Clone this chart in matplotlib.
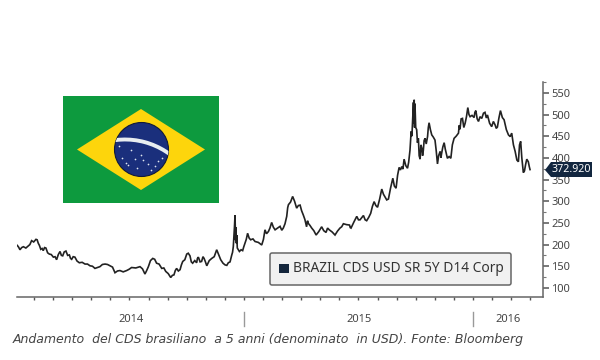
import matplotlib
matplotlib.use("Agg")
import matplotlib.pyplot as plt
from matplotlib.patches import Polygon, Circle, FancyBboxPatch, Rectangle, Arc
from matplotlib.ticker import MultipleLocator

# months since January 2014
months = [0.12,.19,.26,.35,.44,.57,.70,.78,.87,.98,1.10,1.16,1.22,1.28,1.35,1.42,1.48,1.55,1.62,1.71,1.80,1.90,2.01,2.10,2.18,2.27,2.36,2.43,2.50,2.58,2.67,2.76,2.85,2.91,2.97,3.05,3.14,3.25,3.37,3.52,3.67,3.80,3.93,4.06,4.19,4.32,4.45,4.58,4.72,4.85,
          4.98,5.11,5.24,5.37,5.50,5.67,5.85,5.98,6.11,6.33,6.55,6.68,6.81,6.90,6.99,7.10,7.22,7.32,7.42,7.55,7.69,7.80,7.90,8.03,8.16,8.25,8.33,8.40,8.47,8.56,8.65,8.72,8.79,8.90,9.00,9.08,9.17,9.24,9.31,9.42,9.52,9.56,9.61,9.70,9.78,9.85,9.91,9.98,10.05,10.18,
          10.31,10.44,10.57,10.68,10.78,10.90,11.01,11.10,11.18,11.27,11.36,11.40,11.44,11.50,11.53,11.56,11.58,11.60,11.62,11.65,11.76,11.85,11.93,11.99,12.05,12.12,12.19,12.27,12.35,12.47,12.58,12.75,12.93,13.02,13.10,13.18,13.28,13.36,13.45,13.54,13.63,13.76,13.89,13.98,14.06,14.15,14.24,14.29,14.33,14.44,
          14.55,14.65,14.76,14.85,14.94,15.02,15.11,15.19,15.28,15.33,15.37,15.46,15.55,15.66,15.78,15.92,16.07,16.18,16.30,16.38,16.47,16.62,16.77,16.90,17.03,17.12,17.21,17.37,17.53,17.57,17.61,17.76,17.91,18.00,18.08,18.17,18.26,18.35,18.43,18.54,18.64,18.73,18.82,18.91,19.00,19.11,19.22,19.31,19.40,19.48,
          19.57,19.68,19.80,19.88,19.97,20.05,20.13,20.20,20.27,20.33,20.39,20.48,20.57,20.63,20.70,20.76,20.80,20.84,20.88,20.90,20.92,20.94,20.96,21.00,21.05,21.09,21.14,21.18,21.23,21.27,21.32,21.36,21.40,21.44,21.49,21.55,21.62,21.66,21.70,21.77,21.84,21.92,22.01,22.07,22.14,22.20,22.28,22.32,22.36,22.42,
          22.49,22.55,22.66,22.75,22.84,22.92,23.01,23.12,23.24,23.28,23.32,23.38,23.45,23.52,23.59,23.66,23.73,23.79,23.85,23.95,24.06,24.10,24.15,24.22,24.29,24.37,24.46,24.55,24.63,24.70,24.76,24.87,24.98,25.07,25.16,25.22,25.28,25.36,25.44,25.54,25.63,25.75,25.86,25.95,26.03,26.12,26.21,26.30,26.38,26.44,
          26.50,26.56,26.64,26.70,26.76,26.82,26.90,26.95,26.99]
cds = [198,194,188,193,195,192,197,200,209,206,212,211,203,198,189,191,186,193,192,181,178,177,171,172,165,177,184,175,174,183,185,175,176,168,166,172,171,162,158,159,155,155,151,150,145,147,149,154,155,154,
       151,148,135,139,140,137,140,143,147,146,149,144,132,140,149,163,168,166,157,155,145,146,138,133,124,129,130,140,145,139,142,153,161,165,178,180,174,160,157,163,158,168,171,160,161,172,168,160,151,163,
       168,172,188,176,165,157,153,152,158,160,176,182,195,240,268,210,240,203,222,192,184,188,186,195,203,212,226,215,211,213,207,205,199,212,234,225,230,238,251,240,234,238,242,233,238,248,265,285,292,298,
       311,300,284,290,291,278,268,258,241,255,249,244,238,232,222,230,241,232,228,238,234,229,222,231,238,241,248,246,245,239,238,252,265,257,257,262,267,257,255,263,272,288,299,290,286,305,328,316,309,303,
       305,330,353,335,330,360,378,372,380,374,397,382,376,390,418,461,450,488,528,480,534,470,525,470,465,435,445,405,397,430,422,405,418,440,445,432,449,470,481,465,453,448,441,418,386,405,415,400,411,425,
       435,420,399,403,399,430,445,450,457,475,466,490,491,470,480,495,516,500,495,498,493,505,509,490,484,495,491,503,505,492,499,480,472,484,476,468,471,492,509,493,488,465,453,449,457,430,415,395,391,430,
       438,400,366,370,385,397,391,380,372.92]

last_value = 372.920
y_ticks = [100,150,200,250,300,350,400,450,500,550]
year_labels = ["2014","2015","2016"]
year_centres = [6.07,18.03,25.84]
year_bounds = [12,24]
legend_label = "BRAZIL CDS USD SR 5Y D14 Corp"
caption = "Andamento  del CDS brasiliano  a 5 anni (denominato  in USD). Fonte: Bloomberg"

W,H = 600,360
fig = plt.figure(figsize=(6,3.6),dpi=100,facecolor="white")
def box(l,t,r,b):
    return [l/W,1-b/H,(r-l)/W,(b-t)/H]
ax = fig.add_axes(box(17,82,543,297))
ax.set_xlim(0.105,27.67); ax.set_ylim(79,575)
ax.plot(months,cds,color="#222222",lw=1.2,solid_joinstyle="miter")
for s in ("top","left"): ax.spines[s].set_visible(False)
for s in ("bottom","right"):
    ax.spines[s].set_color("#666666"); ax.spines[s].set_linewidth(1.1)
ax.yaxis.tick_right()
ax.set_yticks(y_ticks)
ax.yaxis.set_minor_locator(MultipleLocator(25))
ax.set_xticks(range(1,28))
ax.set_xticklabels([])
ax.tick_params(axis="y",which="major",length=4,width=1.1,color="#555555",labelsize=8,labelcolor="#444444",pad=2)
ax.tick_params(axis="y",which="minor",length=2,width=0.8,color="#777777")
ax.tick_params(axis="x",length=2,width=1,color="#555555")
for t in ax.get_yticklabels(): t.set_family("Noto Sans")

trans = ax.get_xaxis_transform()
for m in year_bounds:
    ax.plot([m,m],[-0.07,-0.135],transform=trans,color="#999999",lw=1,clip_on=False)
for lab,m in zip(year_labels,year_centres):
    ax.text(m,-0.103,lab,transform=trans,ha="center",va="center",fontsize=8,color="#444444",family="Noto Sans")

ov = fig.add_axes([0,0,1,1],zorder=5); ov.set_xlim(0,W); ov.set_ylim(H,0); ov.axis("off"); ov.patch.set_alpha(0)
# value tag
ov.add_patch(Polygon([(545,170),(551,162),(592,162),(592,177),(551,177)],closed=True,fc="#12263f",ec="none"))
ov.text(571.5,169.8,f"{last_value:.3f}",color="white",fontsize=7.7,ha="center",va="center",family="Noto Sans")
# legend
ov.add_patch(FancyBboxPatch((272,255),237,28,boxstyle="round,pad=2,rounding_size=2",fc="#f1f1f1",ec="#666666",lw=1.1))
ov.add_patch(Rectangle((279,263.5),9.5,9.5,fc="#14263c",ec="none"))
ov.text(293,269,legend_label,fontsize=9.9,color="#333333",va="center",ha="left",family="Noto Sans")
# caption
ov.text(13,339,caption,fontsize=9,style="italic",color="#444444",va="center",ha="left",family="DejaVu Sans")
# flag
ov.add_patch(Rectangle((63,96),156,107,fc="#0d9a3e",ec="none"))
ov.add_patch(Polygon([(77,149.5),(141,109),(205,149.5),(141,190)],closed=True,fc="#fdd50c",ec="none"))
c = Circle((141.5,149.5),27,fc="#1a2f7c",ec="#111a3a",lw=0.8)
ov.add_patch(c)
band = Arc((125,215),151,151,theta1=250,theta2=320,color="#e8eef0",lw=2.8)
ov.add_patch(band); band.set_clip_path(c)
star_x = [119,126,131,122,128,137,141,143,148,155,158,162,151,135]
star_y = [146,163,150,158,165,168,155,160,164,166,161,158,170,159]
ov.scatter(star_x,star_y,s=1.5,color="#dfe6f0",linewidths=0)
fig.savefig("out.png",dpi=100)
